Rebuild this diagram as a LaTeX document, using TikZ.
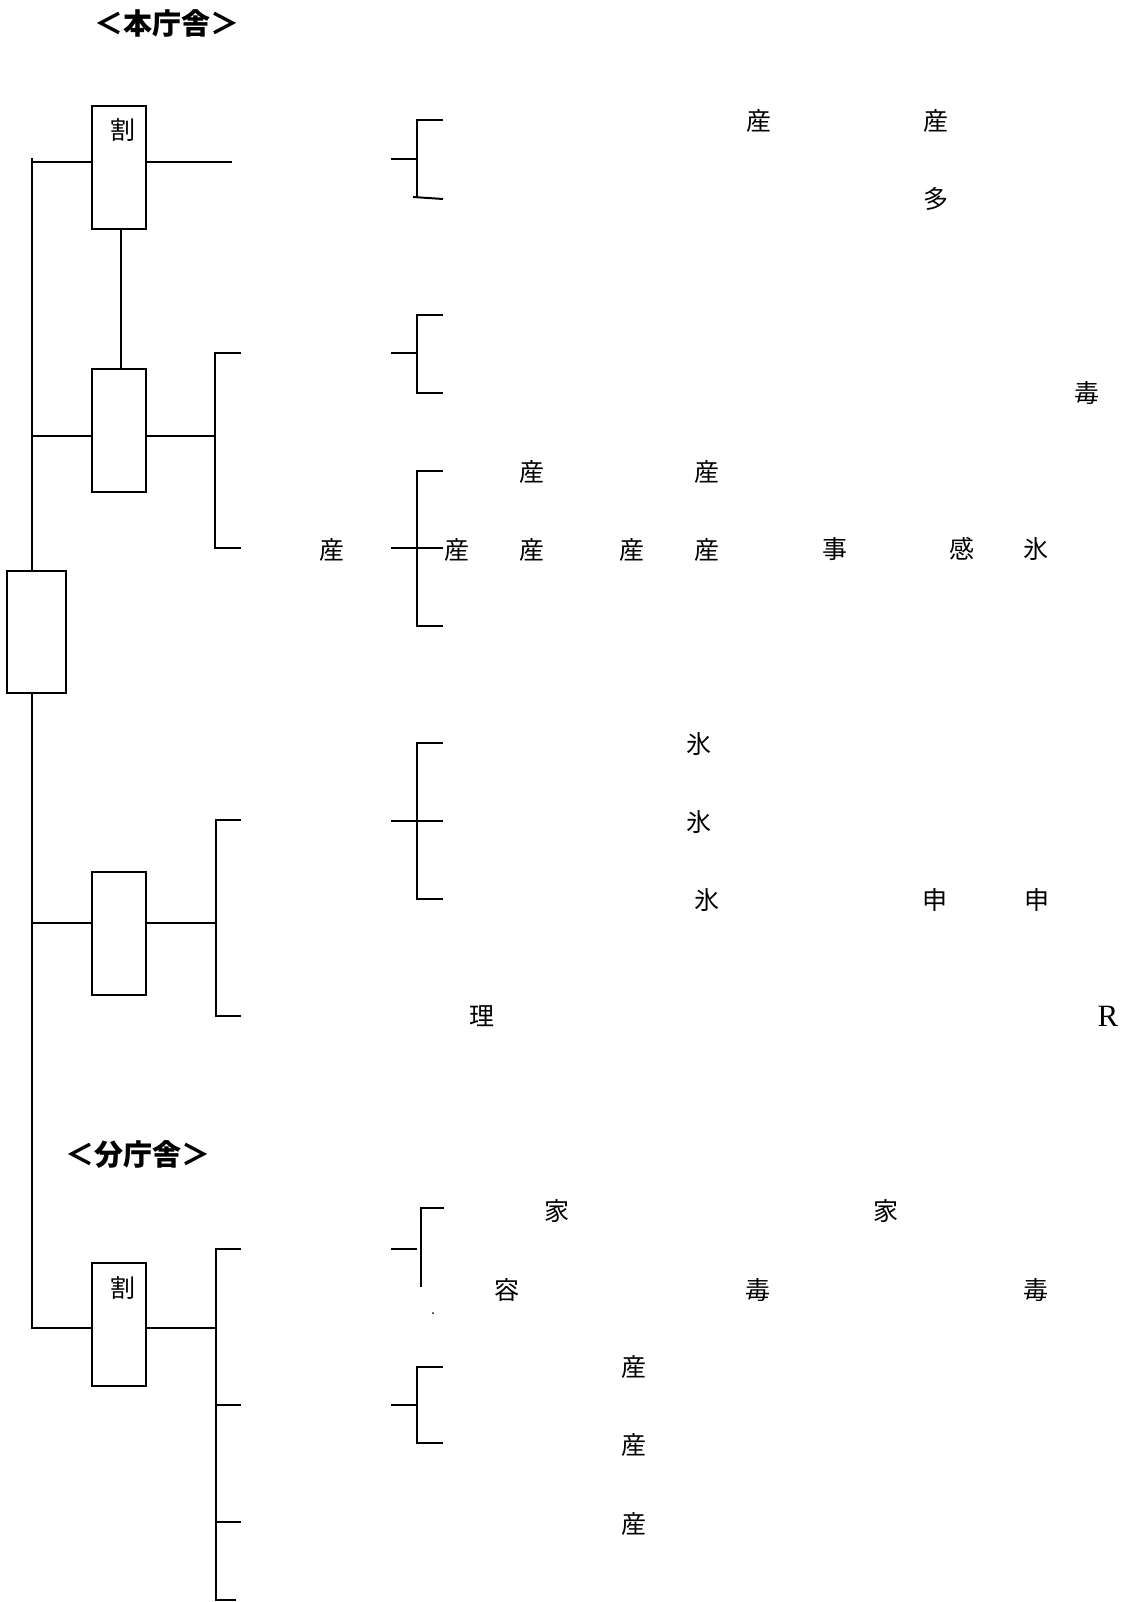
\documentclass[tikz,border=0pt]{standalone}
\usepackage{fontspec}
\newfontfamily\cjk{Noto Sans CJK JP}
\newfontfamily\serifR{Liberation Serif}
\begin{document}
\begin{tikzpicture}[x=1pt,y=-1pt,
  ln/.style={line width=2pt},
  box/.style={draw,line width=2pt,minimum width=54pt,minimum height=123pt,inner sep=0pt},
  lbl/.style={font=\cjk\fontsize{25}{25}\selectfont,inner sep=0pt,anchor=center},
  ttl/.style={font=\cjk\bfseries\fontsize{29}{29}\selectfont,inner sep=0pt,anchor=center}]
\useasboundingbox (0,0) rectangle (1122,1602);
% titles
\node[ttl] (t1) at (167,23) {＜本庁舎＞};
\node[ttl] (t2) at (138,1155) {＜分庁舎＞};
% boxes
\node[box] (b1) at (119,167.5) {};
\node[box] (b2) at (119,430.5) {};
\node[box,minimum width=59pt,minimum height=122pt] (b3) at (36.5,632) {};
\node[box] (b4) at (119,933.5) {};
\node[box] (b5) at (119,1324.5) {};
\node[lbl] (k1) at (123,130) {割};
\node[lbl] (k5) at (123,1288) {割};
% trunk
\coordinate (t0) at (32,158);
\coordinate (j1) at (32,162);
\coordinate (j2) at (32,436);
\coordinate (j4) at (32,923);
\coordinate (j5) at (32,1328);
\draw[ln] (t0) -- (b3.north -| t0);
\draw[ln] (b3.south -| t0) -- (j5) -- (b5.west |- j5);
\draw[ln] (j1) -- (b1.west |- j1);
\draw[ln] (j2) -- (b2.west |- j2);
\draw[ln] (j4) -- (b4.west |- j4);
\coordinate (v1) at (121,0);
\draw[ln] (b1.south -| v1) -- (b2.north -| v1);
% right of box 1
\coordinate (e1) at (232,162);
\draw[ln] (b1.east |- e1) -- (e1);
% big bracket 2
\coordinate (B2m) at (215,436);
\coordinate (B2t) at (241,353);
\coordinate (B2b) at (241,548);
\draw[ln] (b2.east |- B2m) -- (B2m);
\draw[ln] (B2t) -- (B2t -| B2m) -- (B2b -| B2m) -- (B2b);
% big bracket 4
\coordinate (B4m) at (216,923);
\coordinate (B4t) at (241,820);
\coordinate (B4b) at (241,1016);
\draw[ln] (b4.east |- B4m) -- (B4m);
\draw[ln] (B4t) -- (B4t -| B4m) -- (B4b -| B4m) -- (B4b);
% big bracket 5
\coordinate (B5m) at (216,1328);
\coordinate (B5t) at (241,1249);
\coordinate (B5a) at (241,1405);
\coordinate (B5c) at (241,1522);
\coordinate (B5b) at (236,1600);
\draw[ln] (b5.east |- B5m) -- (B5m);
\draw[ln] (B5t) -- (B5t -| B5m) -- (B5b -| B5m) -- (B5b);
\draw[ln] (B5a -| B5m) -- (B5a);
\draw[ln] (B5c -| B5m) -- (B5c);
% small brackets
\coordinate (s1s) at (391,159); \coordinate (s1t) at (443,120); \coordinate (s1b) at (443,199);
\draw[ln] (s1s) -- (417,159);
\draw[ln] (s1t) -- (417,120) -- (417,198);
\draw[ln] (413,197) -- (s1b);
\coordinate (s2s) at (391,353); \coordinate (s2t) at (443,315); \coordinate (s2b) at (443,393);
\draw[ln] (s2s) -- (417,353);
\draw[ln] (s2t) -- (417,315) -- (417,393) -- (s2b);
\coordinate (s3s) at (391,548); \coordinate (s3e) at (443,548); \coordinate (s3t) at (443,471); \coordinate (s3b) at (443,626);
\draw[ln] (s3s) -- (s3e);
\draw[ln] (s3t) -- (417,471) -- (417,626) -- (s3b);
\coordinate (s4s) at (391,821); \coordinate (s4e) at (443,821); \coordinate (s4t) at (443,743); \coordinate (s4b) at (443,899);
\draw[ln] (s4s) -- (s4e);
\draw[ln] (s4t) -- (417,743) -- (417,899) -- (s4b);
\coordinate (s5s) at (391,1249); \coordinate (s5t) at (444,1208); \coordinate (s5b) at (421,1287);
\draw[ln] (s5s) -- (417,1249);
\draw[ln] (s5t) -- (421,1208) -- (s5b);
\fill (433,1313) circle (1pt);
\coordinate (s6s) at (391,1405); \coordinate (s6t) at (443,1367); \coordinate (s6b) at (443,1443);
\draw[ln] (s6s) -- (417,1405);
\draw[ln] (s6t) -- (417,1367) -- (417,1443) -- (s6b);
% labels
\node[lbl] (l1) at (759,121) {産};
\node[lbl] (l2) at (936,121) {産};
\node[lbl] (l3) at (936,199) {多};
\node[lbl] (l4) at (1087,393) {毒};
\node[lbl] (l5) at (532,472) {産};
\node[lbl] (l6) at (707,472) {産};
\node[lbl] (l7) at (332,550) {産};
\node[lbl] (l8) at (457,550) {産};
\node[lbl] (l9) at (532,550) {産};
\node[lbl] (l10) at (632,550) {産};
\node[lbl] (l11) at (707,550) {産};
\node[lbl] (l12) at (835,549) {事};
\node[lbl] (l13) at (962,549) {感};
\node[lbl] (l14) at (1036,549) {氷};
\node[lbl] (l15) at (699,744) {氷};
\node[lbl] (l16) at (699,822) {氷};
\node[lbl] (l17) at (707,900) {氷};
\node[lbl] (l18) at (935,900) {申};
\node[lbl] (l19) at (1037,900) {申};
\node[lbl] (l20) at (482,1016) {理};
\node[font=\serifR\fontsize{31}{31}\selectfont,inner sep=0pt] (l21) at (1108,1016) {R};
\node[lbl] (l22) at (557,1211) {家};
\node[lbl] (l23) at (886,1211) {家};
\node[lbl] (l24) at (507,1290) {容};
\node[lbl] (l25) at (758,1290) {毒};
\node[lbl] (l26) at (1036,1290) {毒};
\node[lbl] (l27) at (634,1367) {産};
\node[lbl] (l28) at (634,1445) {産};
\node[lbl] (l29) at (634,1524) {産};
\end{tikzpicture}
\end{document}
